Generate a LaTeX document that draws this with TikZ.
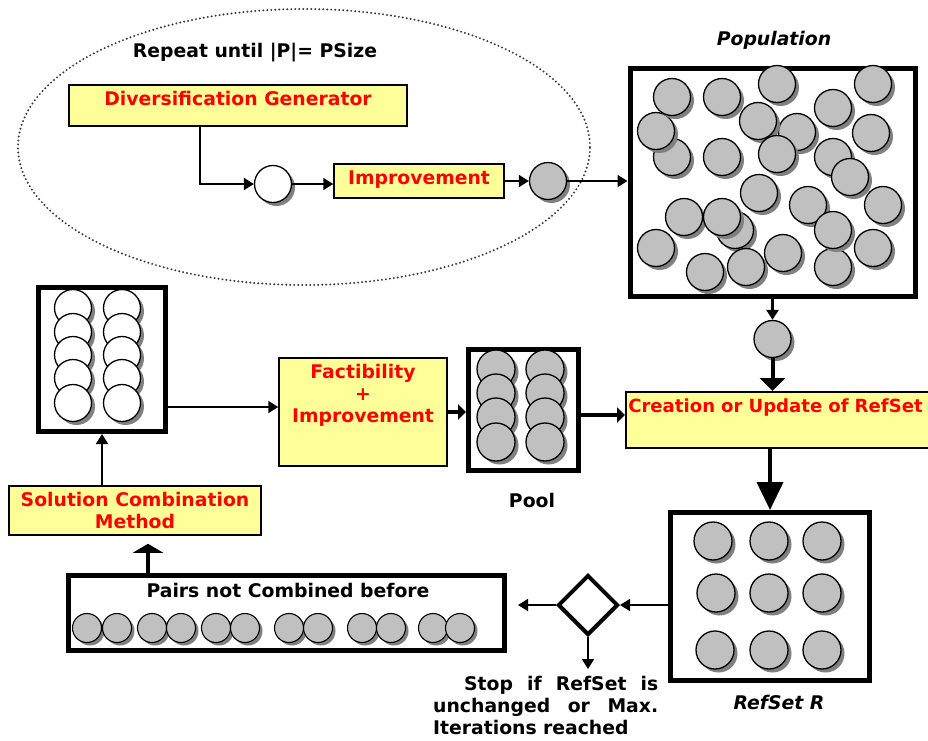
\documentclass[tikz,border=0pt]{standalone}
\usepackage{fontspec}
\setmainfont{DejaVu Sans}
\usetikzlibrary{positioning,arrows.meta,shapes.geometric,shadows}

\definecolor{boxyellow}{HTML}{FFFF99}
\definecolor{labelred}{HTML}{FF0000}
\definecolor{solfill}{HTML}{C0C0C0}
\definecolor{solshade}{HTML}{808080}
\definecolor{loopgrey}{HTML}{3A3A3A}

\newcommand{\bigfont}{\fontsize{18.8}{22}\selectfont\bfseries}

\begin{document}
\begin{tikzpicture}[
        x=1pt, y=-1pt,
        font=\bigfont,
        sol/.style={
            circle,
            draw=black,
            line width=1.3pt,
            fill=solfill,
            minimum size=37pt,
            inner sep=0pt
        },
        newsol/.style={sol, fill=white},
        shade/.style={drop shadow={shadow xshift=3.5pt, shadow yshift=-3.5pt, fill=solshade, opacity=1}},
        procbox/.style={
            rectangle,
            draw=black,
            line width=1.5pt,
            fill=boxyellow,
            text=labelred,
            inner sep=0pt,
            align=center
        },
        setbox/.style={rectangle, draw=black, line width=5pt, fill=white, inner sep=0pt},
        decision/.style={diamond, aspect=1, draw=black, line width=4pt, fill=white,
            minimum width=60pt, minimum height=60pt, inner sep=0pt},
        loopzone/.style={ellipse, draw=loopgrey, line width=2.2pt, dash pattern=on 0pt off 4pt,
            line cap=round, minimum width=572pt, minimum height=276pt, inner sep=0pt},
        caption/.style={inner sep=0pt, text=black},
        redlbl/.style={inner sep=0pt, text=labelred, align=center},
        thinarrow/.style={-{Triangle[length=10pt,width=12pt]}, line width=1.8pt},
        midarrow/.style={-{Triangle[length=13pt,width=25pt]}, line width=4pt},
        bigarrow/.style={-{Triangle[length=28pt,width=26pt]}, line width=4pt},
        thickarrow/.style={-{Triangle[length=8pt,width=15pt]}, line width=4pt},
        flatarrow/.style={-{Triangle[length=9pt,width=30pt]}, line width=4pt}
    ]

    \useasboundingbox (0,0) rectangle (928,740);
    \clip (0,0) rectangle (928,740);

    % generation loop
    \node[loopzone] (loop) at (304,147) {};
    \node[caption, anchor=base] (repeatlbl) at (255,57) {Repeat until |P|= PSize};

    \node[procbox, minimum width=338pt, text height=20.5pt, text depth=20.5pt] (divgen)
        at (238,105.5) {Diversification Generator};
    \node[newsol, shade] (trialsol) at (273,184) {};
    \node[procbox, minimum width=170pt, text height=20pt, text depth=14pt] (improve)
        at (419,181) {Improvement};
    \node[sol, shade] (goodsol) at (548,181) {};

    % population
    \node[setbox, minimum width=285pt, minimum height=228pt] (popbox) at (772.5,182) {};
    \node[caption, font=\bigfont\itshape, anchor=base] (poplbl) at (774,45) {Population};
    \foreach \px/\py [count=\k] in {672/157, 656/131, 672/97, 722/97, 777/84, 873/84,
            833/108, 797/132, 758/121, 777/154, 871/133, 722/157, 833/157, 850/177,
            759/193, 808/205, 833/267, 833/230, 883/205, 684/217, 735/230, 722/217,
            656/248, 873/248, 783/253, 746/267, 705/272}
        \node[sol, shade] (pop\k) at (\px,\py) {};

    \node[sol, shade] (popsol) at (772.5,339) {};
    \node[procbox, anchor=north west, text width=314pt, align=left, inner xsep=2.5pt,
        font=\fontsize{18.1}{22}\selectfont\bfseries,
        text height=21pt, text depth=35pt] (refupd) at (625,391) {Creation or Update of RefSet};

    % reference set
    \node[setbox, minimum width=199pt, minimum height=168pt] (refbox) at (770,596.5) {};
    \foreach \px/\py [count=\k] in {713/541, 769/541, 822/541, 716/593, 769/593, 822/593,
            715/650, 769/650, 822/650}
        \node[sol, minimum size=38pt, shade] (ref\k) at (\px,\py) {};
    \node[caption, font=\bigfont\itshape, anchor=base] (reflbl) at (779,709) {RefSet R};

    % combination side
    \node[setbox, minimum width=127pt, minimum height=144pt] (whitebox) at (102,359.5) {};
    \foreach \py [count=\k] in {308, 332, 355, 378, 403} {
        \node[newsol, shade] (wl\k) at (73,\py) {};
        \node[newsol, shade] (wr\k) at (122,\py) {};
    }

    \node[procbox, minimum width=168pt, minimum height=108pt] (factib) at (363,412) {};
    \node[redlbl, anchor=north] (factiblbl) at ([yshift=-7pt]factib.north)
        {Factibility\\+\\Improvement};

    \node[setbox, minimum width=110pt, minimum height=121pt] (poolbox) at (523.5,410) {};
    \foreach \py [count=\k] in {369, 393, 417, 442} {
        \node[sol, minimum size=38pt, shade] (pl\k) at (496,\py) {};
        \node[sol, minimum size=38pt, shade] (pr\k) at (545,\py) {};
    }
    \node[caption, anchor=base] (poollbl) at (532,507) {Pool};

    \node[procbox, minimum width=252pt, minimum height=49pt] (solcomb) at (135,510.5)
        {Solution Combination\\Method};

    \node[setbox, minimum width=436pt, minimum height=75pt] (pairsbox) at (286.5,613) {};
    \node[caption, anchor=base] (pairslbl) at (288,597) {Pairs not Combined before};
    \foreach \px [count=\k] in {87, 117, 152, 181, 216, 245, 289, 318, 362, 391, 433, 460}
        \node[sol, minimum size=29pt, line width=1.1pt,
            drop shadow={shadow xshift=3pt, shadow yshift=-3pt, fill=solshade, opacity=1}]
            (pair\k) at (\px,628) {};

    \node[decision] (stopdec) at (588,605) {};
    \node[caption, anchor=north west, text width=225pt, align=left] (stoptext) at (433,676)
        {\hspace*{31pt}\makebox[194pt]{Stop\hfill if\hfill RefSet\hfill is}\\
         \makebox[225pt]{unchanged\hfill or\hfill Max.}\\
         Iterations reached};

    % connectors
    \draw[thinarrow] ([xshift=-38pt]divgen.south) |- (trialsol.west);
    \draw[thinarrow] (trialsol.east) -- (trialsol.east -| improve.west);
    \draw[thinarrow] (improve.east) -- (goodsol.west);
    \draw[thinarrow] (goodsol.east) -- (goodsol.east -| popbox.west);
    \draw[thinarrow, line width=2.5pt] (popbox.south) -- (popsol.north);
    \draw[midarrow] (popsol.south) -- (popsol.south |- refupd.north);
    \draw[bigarrow] (refupd.south -| refbox.north) -- (refbox.north);

    \draw[thinarrow] (solcomb.north -| whitebox.south) -- (whitebox.south);
    \draw[thinarrow] ([yshift=-47.5pt]whitebox.east) -- ([yshift=-47.5pt]whitebox.east -| factib.west);
    \draw[thickarrow] (factib.east) -- (factib.east -| poolbox.west);
    \draw[thickarrow] ([yshift=-5pt]poolbox.east) -- ([yshift=-5pt]poolbox.east -| refupd.west);
    \draw[flatarrow, shorten >=8pt] ([xshift=13pt]solcomb.south |- pairsbox.north) -- ([xshift=13pt]solcomb.south);

    \draw[thinarrow] (refbox.west |- stopdec.east) -- (stopdec.east);
    \draw[thinarrow, shorten >=11pt] (stopdec.west) -- (stopdec.west -| pairsbox.east);
    \draw[thinarrow, shorten >=7pt] (stopdec.south) -- (stopdec.south |- stoptext.north);

\end{tikzpicture}
\end{document}
